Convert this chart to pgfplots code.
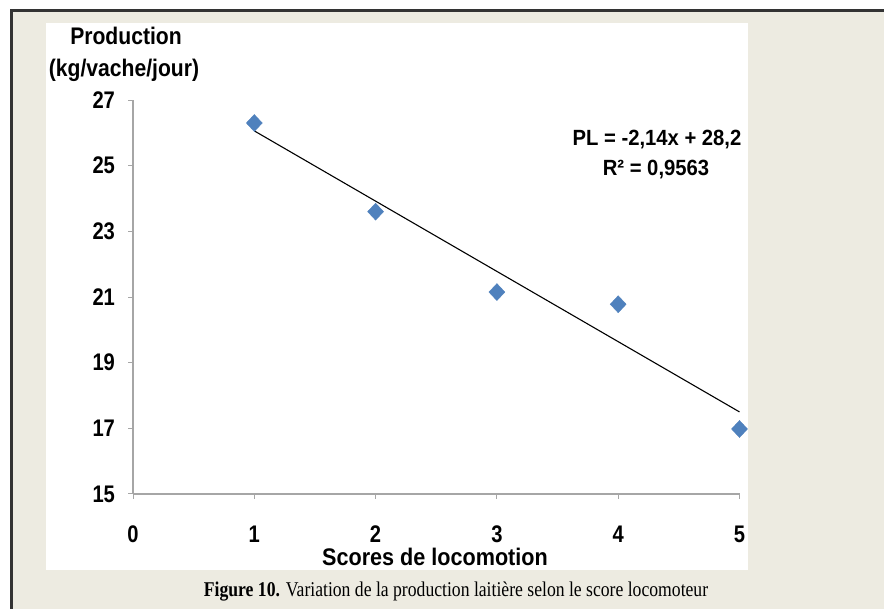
\documentclass[border=0pt]{standalone}
\usepackage{fontspec}
\setmainfont{Liberation Sans}
\newfontfamily\seriffont{Liberation Serif}
\usepackage{graphicx}
\usepackage{pgfplots}
\pgfplotsset{compat=1.18}
\definecolor{beige}{HTML}{EDEBE1}
\definecolor{mblue}{HTML}{4F81BD}
\definecolor{axgray}{HTML}{A6A6A6}
\begin{document}
\begin{tikzpicture}
\path[use as bounding box] (0pt,0pt) rectangle (884pt,609pt);
\fill[white] (0pt,0pt) rectangle (884pt,609pt);
\fill[beige] (11pt,0pt) rectangle (884pt,598pt);
\draw[line width=3pt, color=black!80] (11pt,0pt) -- (11pt,598pt) -- (884pt,598pt);
\fill[white] (46pt,39pt) rectangle (748pt,586pt);
\begin{axis}[
  at={(133pt,115pt)}, anchor=south west,
  x=121.3pt, y=32.83pt,
  xmin=0, xmax=5, ymin=15, ymax=27,
  axis x line*=bottom, axis y line*=left,
  axis line style={axgray, line width=1.2pt},
  xtick={0,1,...,5}, ytick={15,17,...,27},
  tick align=outside, major tick length=5pt,
  tick style={axgray, line width=1pt},
  /pgf/number format/assume math mode=true,
  ticklabel style={font=\fontsize{24}{26}\selectfont\bfseries, xscale=0.84},
  yticklabel style={xshift=-12pt},
  xticklabel style={yshift=-23pt},
  clip=false,
]
\addplot[black, line width=1.1pt, no marks] coordinates {(1,26.06) (5,17.50)};
\addplot[only marks, mark=diamond*, mark size=8.5pt,
  mark options={fill=mblue, draw=mblue, line width=0.4pt, xscale=1.25}]
  coordinates {(1,26.3) (2,23.6) (3,21.15) (4,20.78) (5,16.98)};
\end{axis}
\node[font=\fontsize{24}{26}\selectfont\bfseries, xscale=0.88] at (126pt,573pt) {Production};
\node[font=\fontsize{24}{26}\selectfont\bfseries, xscale=0.88] at (124pt,539pt) {(kg/vache/jour)};
\node[font=\fontsize{22}{24}\selectfont\bfseries, xscale=0.92] at (657pt,469pt) {PL = -2,14x + 28,2};
\node[font=\fontsize{22}{24}\selectfont\bfseries, xscale=0.92] at (656pt,439pt) {R² = 0,9563};
\node[font=\fontsize{24}{26}\selectfont\bfseries, xscale=0.9] at (435pt,52pt) {Scores de locomotion};
\node[font=\fontsize{21}{23}\selectfont\seriffont, xscale=0.84] at (456pt,17pt) {\textbf{Figure 10.} Variation de la production laitière selon le score locomoteur};
\end{tikzpicture}
\end{document}
